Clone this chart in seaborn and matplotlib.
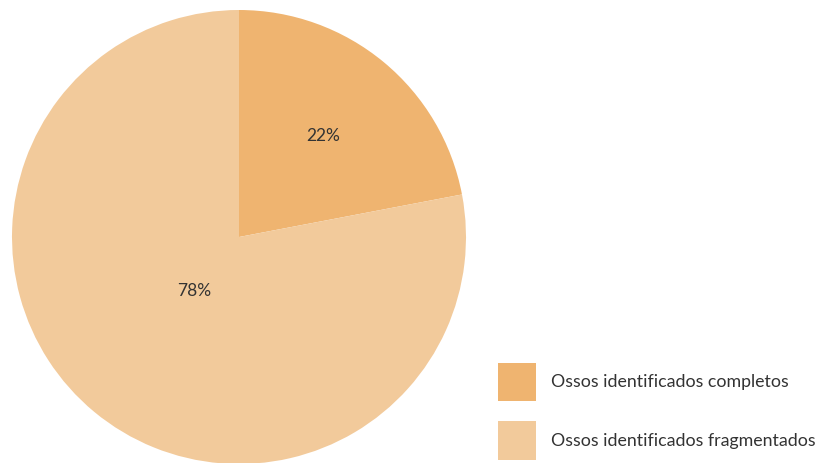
import numpy as np
import matplotlib
matplotlib.use("Agg")
import matplotlib.pyplot as plt
import seaborn as sns

categories = ["Ossos identificados completos", "Ossos identificados fragmentados"]
shares = [22, 78]
pct_labels = ["22%", "78%"]
colors = ["#EFB470", "#F2CA9B"]
label_radius = [0.58, 0.31]

sns.set_theme(style="white")
plt.rcParams["font.family"] = ["Lato", "DejaVu Sans"]
palette = sns.color_palette(colors)

fig = plt.figure(figsize=(8.28, 4.63), dpi=100)
ax = fig.add_axes([12 / 828, -1 / 463, 454 / 828, 454 / 463])

wedges, _ = ax.pie(shares, colors=palette, startangle=90, counterclock=False,
                   radius=1.0, wedgeprops=dict(linewidth=0))
ax.set_xlim(-1, 1)
ax.set_ylim(-1, 1)
ax.set_aspect("equal")
ax.axis("off")

# percentage labels at the middle angle of each wedge
for w, txt, r in zip(wedges, pct_labels, label_radius):
    mid = np.deg2rad((w.theta1 + w.theta2) / 2)
    ax.text(r * np.cos(mid), r * np.sin(mid), txt, ha="center", va="center",
            fontsize=12.5, color="#333333")

fig.legend(wedges, categories, loc="upper left",
           bbox_to_anchor=(498 / 828, 1 - 363 / 463), frameon=False,
           borderpad=0, borderaxespad=0, handlelength=2.14, handleheight=2.95,
           labelspacing=1.12, handletextpad=0.84, fontsize=12.8,
           labelcolor="#333333")

fig.savefig("out.png", dpi=100)
